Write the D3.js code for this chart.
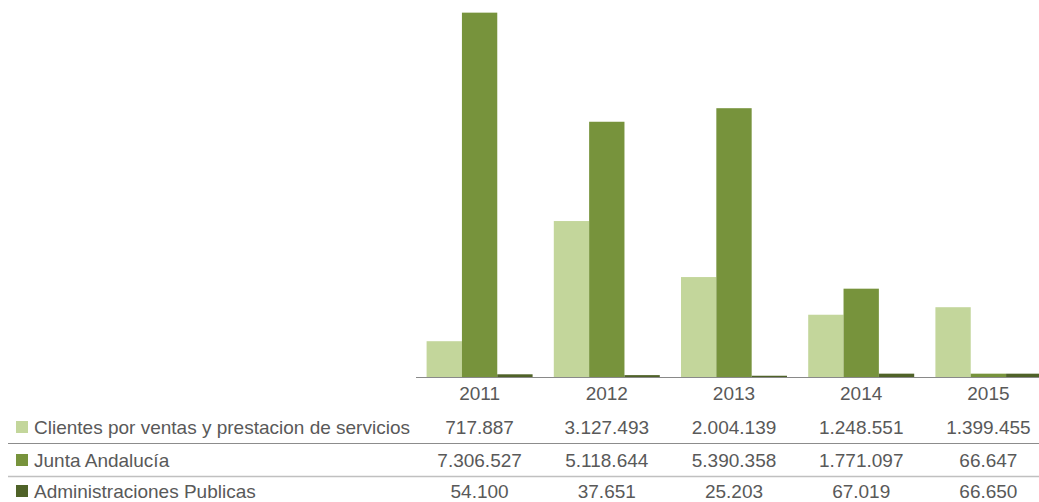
<!DOCTYPE html>
<html lang="es">
<head>
<meta charset="utf-8">
<script src="https://d3js.org/d3.v7.min.js"></script>
<style>
  *{margin:0;padding:0}
  body{width:1039px;height:502px;background:#fff;overflow:hidden}
  svg{display:block;font-family:"Liberation Sans",Arial,sans-serif}
  .lbl{fill:#595959;font-size:19px}
</style>
</head>
<body>
<script>
const years=['2011','2012','2013','2014','2015'];
const seriesNames=['Clientes por ventas y prestacion de servicios','Junta Andalucía','Administraciones Publicas'];
const clientes=[717887,3127493,2004139,1248551,1399455];
const junta=[7306527,5118644,5390358,1771097,66647];
const administraciones=[54100,37651,25203,67019,66650];
const colors=['#c3d69b','#77933c','#4f6228'];

const width=1039,height=502;
const series=[clientes,junta,administraciones];
const fmt=v=>d3.format(',')(v).replace(/,/g,'.');

const svg=d3.select('body').append('svg')
    .attr('width',width).attr('height',height);

// plot area (right side runs past the window, as in the original)
const x=d3.scaleBand().domain(years).range([416,1052])
    .paddingInner(0.1667).paddingOuter(0.0833);
const xs=d3.scaleBand().domain(d3.range(series.length)).range([0,x.bandwidth()]);
const y=d3.scaleLinear().domain([0,7500000]).range([377,3]);

const groups=svg.append('g').selectAll('g')
    .data(years).enter().append('g')
    .attr('transform',d=>`translate(${x(d)},0)`);

groups.selectAll('rect')
    .data((d,i)=>series.map((s,k)=>({k,v:s[i]})))
    .enter().append('rect')
    .attr('x',d=>xs(d.k))
    .attr('width',xs.bandwidth())
    .attr('y',d=>y(d.v))
    .attr('height',d=>y(0)-y(d.v))
    .attr('fill',d=>colors[d.k]);

// base line
svg.append('line')
    .attr('x1',416).attr('x2',width)
    .attr('y1',377.5).attr('y2',377.5)
    .attr('stroke','#898989');

// year labels (data table header)
svg.append('g').selectAll('text')
    .data(years).enter().append('text')
    .attr('class','lbl')
    .attr('x',d=>x(d)+x.bandwidth()/2)
    .attr('y',400)
    .attr('text-anchor','middle')
    .text(d=>d);

// data table rows
const rowY=[434,467,498];
const rows=svg.append('g').selectAll('g')
    .data(series).enter().append('g');

rows.append('rect')
    .attr('x',16).attr('y',(d,i)=>rowY[i]-13)
    .attr('width',12).attr('height',12)
    .attr('fill',(d,i)=>colors[i]);

rows.append('text')
    .attr('class','lbl')
    .attr('x',34).attr('y',(d,i)=>rowY[i])
    .text((d,i)=>seriesNames[i]);

rows.each(function(s,i){
  d3.select(this).selectAll('text.val')
    .data(s).enter().append('text')
    .attr('class','lbl val')
    .attr('x',(v,j)=>x(years[j])+x.bandwidth()/2)
    .attr('y',rowY[i])
    .attr('text-anchor','middle')
    .text(v=>fmt(v));
});

// row separators
svg.append('line').attr('x1',8).attr('x2',width)
    .attr('y1',443.5).attr('y2',443.5).attr('stroke','#8c8c8c');
svg.append('line').attr('x1',8).attr('x2',width)
    .attr('y1',476.5).attr('y2',476.5).attr('stroke','#c0c0c0').attr('stroke-width',1.5);
</script>
</body>
</html>
